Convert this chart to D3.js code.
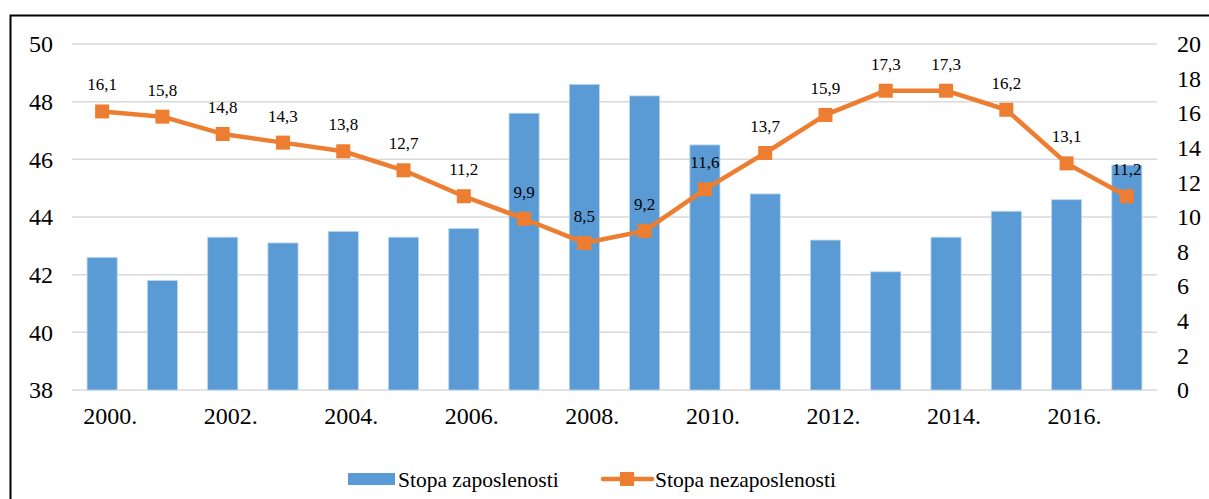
<!DOCTYPE html>
<html>
<head>
<meta charset="utf-8">
<script src="https://cdn.jsdelivr.net/npm/d3@7"></script>
<style>
  body { margin: 0; background: #fff; }
  svg text { font-family: "Liberation Serif", "Times New Roman", serif; fill: #000; }
</style>
</head>
<body>
<div id="chart"></div>
<script>
var years = ['2000.', '2001.', '2002.', '2003.', '2004.', '2005.', '2006.', '2007.', '2008.',
             '2009.', '2010.', '2011.', '2012.', '2013.', '2014.', '2015.', '2016.', '2017.'];
var zaposlenost = [42.6, 41.8, 43.3, 43.1, 43.5, 43.3, 43.6, 47.6, 48.6,
                   48.2, 46.5, 44.8, 43.2, 42.1, 43.3, 44.2, 44.6, 45.8];
var nezaposlenost = [16.1, 15.8, 14.8, 14.3, 13.8, 12.7, 11.2, 9.9, 8.5,
                     9.2, 11.6, 13.7, 15.9, 17.3, 17.3, 16.2, 13.1, 11.2];
var leftTicks = [38, 40, 42, 44, 46, 48, 50];
var rightTicks = [0, 2, 4, 6, 8, 10, 12, 14, 16, 18, 20];
var seriesNames = ['Stopa zaposlenosti', 'Stopa nezaposlenosti'];

var width = 1209, height = 499;
var blue = '#5B9BD5', orange = '#ED7D31';
var plot = {left: 72, right: 1157, top: 44, bottom: 390};
var serif = '"Liberation Serif", "Times New Roman", serif';

var svg = d3.select('#chart').append('svg')
    .attr('width', width)
    .attr('height', height);

// outer frame
svg.append('rect')
    .attr('x', 10.5).attr('y', 15.5)
    .attr('width', width + 10).attr('height', height + 10)
    .attr('fill', 'none').attr('stroke', '#000').attr('stroke-width', 2);

var x = d3.scaleBand().domain(years).range([plot.left, plot.right])
    .paddingInner(0.5).paddingOuter(0.25);
var yL = d3.scaleLinear().domain([38, 50]).range([plot.bottom, plot.top]);
var yR = d3.scaleLinear().domain([0, 20]).range([plot.bottom, plot.top]);

// gridlines
svg.append('g').selectAll('line')
    .data(leftTicks)
    .enter().append('line')
    .attr('x1', plot.left).attr('x2', plot.right)
    .attr('y1', function(d){ return yL(d); })
    .attr('y2', function(d){ return yL(d); })
    .attr('stroke', '#d9d9d9').attr('stroke-width', 1.5);

// left axis
var axL = svg.append('g')
    .attr('transform', 'translate(' + (plot.left - 19) + ',0)')
    .call(d3.axisLeft(yL).tickValues(leftTicks).tickSize(0).tickPadding(0));
axL.attr('font-family', serif).attr('font-size', 24);
axL.select('.domain').remove();

// right axis
var axR = svg.append('g')
    .attr('transform', 'translate(' + (plot.right + 20) + ',0)')
    .call(d3.axisRight(yR).tickValues(rightTicks).tickSize(0).tickPadding(0));
axR.attr('font-family', serif).attr('font-size', 24);
axR.select('.domain').remove();

// bottom axis (every second year)
var axB = svg.append('g')
    .attr('transform', 'translate(8,' + (plot.bottom + 17) + ')')
    .call(d3.axisBottom(x).tickValues(years.filter(function(d, i){ return i % 2 === 0; }))
        .tickSize(0).tickPadding(0));
axB.attr('font-family', serif).attr('font-size', 24);
axB.select('.domain').remove();

// bars
svg.append('g').selectAll('rect')
    .data(zaposlenost)
    .enter().append('rect')
    .attr('x', function(d, i){ return x(years[i]); })
    .attr('y', function(d){ return yL(d); })
    .attr('width', x.bandwidth())
    .attr('height', function(d){ return yL(38) - yL(d); })
    .attr('fill', blue)
    .attr('stroke', '#bdd7ee').attr('stroke-width', 0.8);

// line
var line = d3.line()
    .x(function(d, i){ return x(years[i]) + x.bandwidth() / 2; })
    .y(function(d){ return yR(d); });

svg.append('path')
    .datum(nezaposlenost)
    .attr('d', line)
    .attr('fill', 'none')
    .attr('stroke', orange)
    .attr('stroke-width', 4.5)
    .attr('stroke-linejoin', 'round');

var ms = 14;
svg.append('g').selectAll('rect')
    .data(nezaposlenost)
    .enter().append('rect')
    .attr('x', function(d, i){ return x(years[i]) + x.bandwidth() / 2 - ms / 2; })
    .attr('y', function(d){ return yR(d) - ms / 2; })
    .attr('width', ms).attr('height', ms)
    .attr('fill', orange);

// data labels
svg.append('g').selectAll('text')
    .data(nezaposlenost)
    .enter().append('text')
    .attr('x', function(d, i){ return x(years[i]) + x.bandwidth() / 2; })
    .attr('y', function(d){ return yR(d) - 21; })
    .attr('text-anchor', 'middle')
    .attr('font-size', 17)
    .text(function(d){ return String(d).replace('.', ','); });

// legend
var lg = svg.append('g').attr('font-size', 21.5);
lg.append('rect')
    .attr('x', 348).attr('y', 473).attr('width', 47).attr('height', 12)
    .attr('fill', blue);
lg.append('text')
    .attr('x', 398).attr('y', 487)
    .text(seriesNames[0]);
lg.append('line')
    .attr('x1', 603).attr('x2', 652).attr('y1', 479).attr('y2', 479)
    .attr('stroke', orange).attr('stroke-width', 4.5).attr('stroke-linecap', 'round');
lg.append('rect')
    .attr('x', 620).attr('y', 472).attr('width', 14).attr('height', 14)
    .attr('fill', orange);
lg.append('text')
    .attr('x', 655).attr('y', 487)
    .text(seriesNames[1]);
</script>
</body>
</html>
